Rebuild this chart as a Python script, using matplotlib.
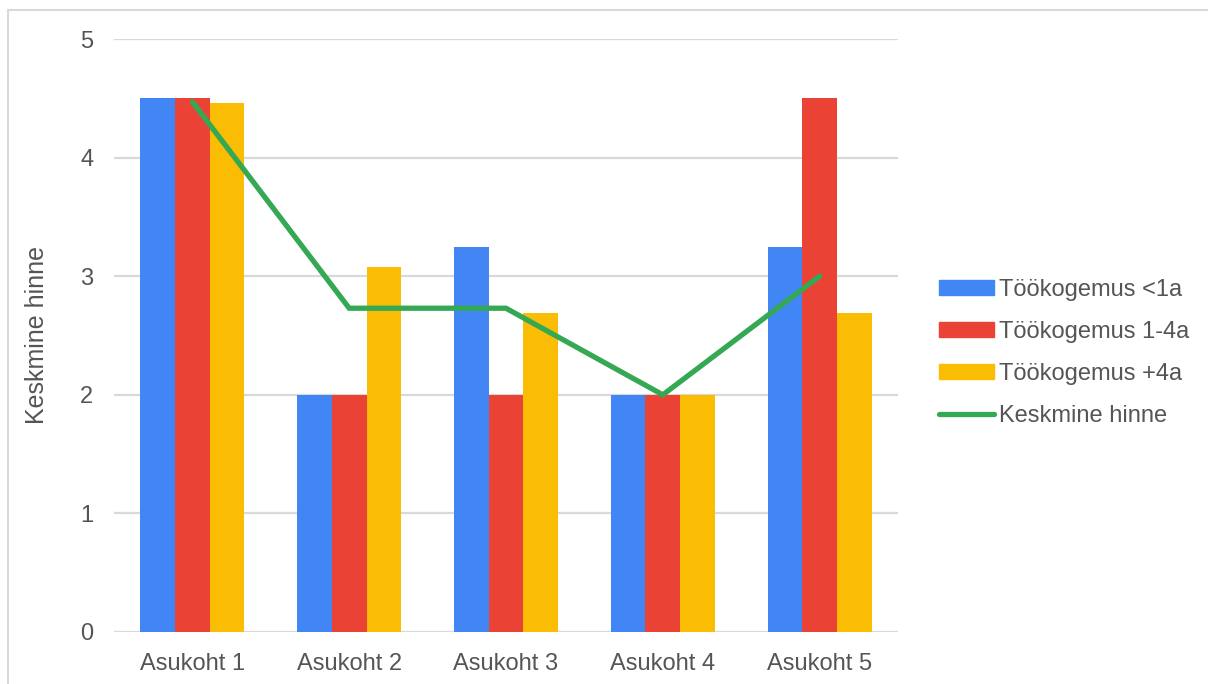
import matplotlib.pyplot as plt
import numpy as np
from matplotlib.patches import Rectangle
from matplotlib.lines import Line2D

plt.rcParams['font.family'] = ['Liberation Sans', 'DejaVu Sans']

# data
asukohad = ['Asukoht 1', 'Asukoht 2', 'Asukoht 3', 'Asukoht 4', 'Asukoht 5']
kogemus_alla1 = [4.5, 2.0, 3.25, 2.0, 3.25]
kogemus_1_4 = [4.5, 2.0, 2.0, 2.0, 4.5]
kogemus_ule4 = [4.46, 3.08, 2.69, 2.0, 2.69]
keskmine = [4.47, 2.73, 2.73, 2.0, 3.0]

seeria_nimed = ['Töökogemus <1a', 'Töökogemus 1-4a', 'Töökogemus +4a']
varvid = ['#4285F4', '#EA4335', '#FBBC04']
roheline = '#34A853'
tekst = '#555555'

fig = plt.figure(figsize=(12.08, 6.84), dpi=100)
ax = fig.add_axes([114 / 1208, 52 / 684, 784 / 1208, 593 / 684])

# light frame around the chart
fig.add_artist(Rectangle((8 / 1208, -0.1), 1.2, (674 / 684) + 0.1,
                         transform=fig.transFigure, fill=False,
                         edgecolor='#d9d9d9', linewidth=1.5))

x = np.arange(len(asukohad))
w = 0.221
for i, (vals, c) in enumerate(zip([kogemus_alla1, kogemus_1_4, kogemus_ule4], varvid)):
    ax.bar(x + (i - 1) * w, vals, width=w, color=c, zorder=2)

ax.plot(x, keskmine, color=roheline, linewidth=3.8, solid_capstyle='round',
        solid_joinstyle='miter', zorder=3)

ax.set_xlim(-0.5, 4.5)
ax.set_ylim(0, 5)
ax.set_yticks(range(6))
ax.set_xticks(x)
ax.set_xticklabels(asukohad)
ax.yaxis.grid(True, color='#d9d9d9', linewidth=1.6, zorder=0)
ax.set_axisbelow(True)
for s in ax.spines.values():
    s.set_visible(False)
ax.tick_params(length=0, labelsize=17, colors=tekst)
ax.tick_params(axis='y', pad=15)
ax.tick_params(axis='x', pad=15)
ax.set_ylabel('Keskmine hinne', fontsize=18, color=tekst, labelpad=22)

handles = [Rectangle((0, 0), 1, 1, color=c) for c in varvid]
handles.append(Line2D([0], [0], color=roheline, linewidth=3.8, solid_capstyle='round'))
leg = fig.legend(handles, seeria_nimed + ['Keskmine hinne'], loc='center left',
                 bbox_to_anchor=(918 / 1208, 1 - 353 / 684), frameon=False,
                 fontsize=17, handlelength=2.3, handleheight=0.6,
                 handletextpad=0.25, labelspacing=0.85)
for t in leg.get_texts():
    t.set_color(tekst)

fig.savefig('out.png', dpi=100)
